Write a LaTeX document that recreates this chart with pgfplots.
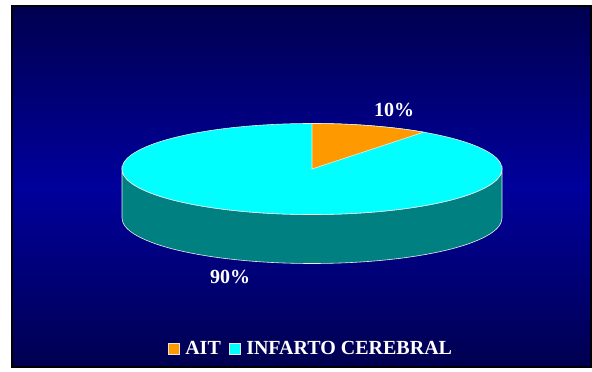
\documentclass[border=0pt]{standalone}
\usepackage{pgfplots}
\pgfplotsset{compat=1.18}
\usepackage{pgfplotstable}
\usepackage{fontspec}
\setmainfont{Liberation Serif}
\definecolor{bgdark}{HTML}{000050}
\definecolor{bgmid}{HTML}{00009C}
\definecolor{sliceA}{HTML}{FF9900}
\definecolor{sliceB}{HTML}{00FFFF}
\definecolor{sideB}{HTML}{008080}
\pgfplotstableread{
label value
AIT 10
INFARTO 90
}\piedata
\begin{document}
\begin{tikzpicture}
\pgfplotstablegetelem{0}{value}\of\piedata \let\va\pgfplotsretval
\pgfplotstablegetelem{1}{value}\of\piedata \let\vb\pgfplotsretval
\pgfmathsetmacro{\angA}{90-360*\va/(\va+\vb)}
\begin{axis}[scale only axis, width=592pt, height=372pt,
  xmin=0, xmax=592, ymin=0, ymax=372, hide axis, clip=false,
  legend image code/.code={\draw[#1, draw=white!80!gray, line width=0.4pt] (0pt,-5.5pt) rectangle (11pt,5.5pt);},
  legend style={at={(axis description cs:0.5253,0.0620)}, anchor=center, draw=none, fill=none,
    text=white, font=\bfseries\fontsize{20}{23}\selectfont, legend columns=2,
    /tikz/every odd column/.append style={column sep=4pt},
    /tikz/every even column/.append style={column sep=6pt}},
]
\path[fill=white] (axis cs:0,0) rectangle (axis cs:592,372);
\shade[top color=bgdark, bottom color=bgdark, middle color=bgmid] (axis cs:12,5) rectangle (axis cs:591,366);
\draw[black, line width=1.5pt] (axis cs:12,5) rectangle (axis cs:591,366);
% side
\filldraw[fill=sideB, draw=white!85!gray, line width=0.6pt] (axis cs:122,203) arc[start angle=180, end angle=360, x radius=190pt, y radius=45.5pt] -- ++(0,-49pt) arc[start angle=360, end angle=180, x radius=190pt, y radius=45.5pt] -- cycle;
% top
\filldraw[fill=sliceB, draw=white!85!gray, line width=0.6pt] (axis cs:312,203) ellipse[x radius=190pt, y radius=45.5pt];
\filldraw[fill=sliceA, draw=white!85!gray, line width=0.6pt] (axis cs:312,248.5) arc[start angle=90, end angle=\angA, x radius=190pt, y radius=45.5pt] -- (axis cs:312,203) -- cycle;
\node[white, font=\bfseries\fontsize{20}{23}\selectfont] at (axis cs:394,262) {10\%};
\node[white, font=\bfseries\fontsize{20}{23}\selectfont] at (axis cs:230,95.5) {90\%};
\addlegendimage{fill=sliceA}\addlegendentry{AIT}
\addlegendimage{fill=sliceB}\addlegendentry{INFARTO CEREBRAL}
\end{axis}
\end{tikzpicture}
\end{document}
